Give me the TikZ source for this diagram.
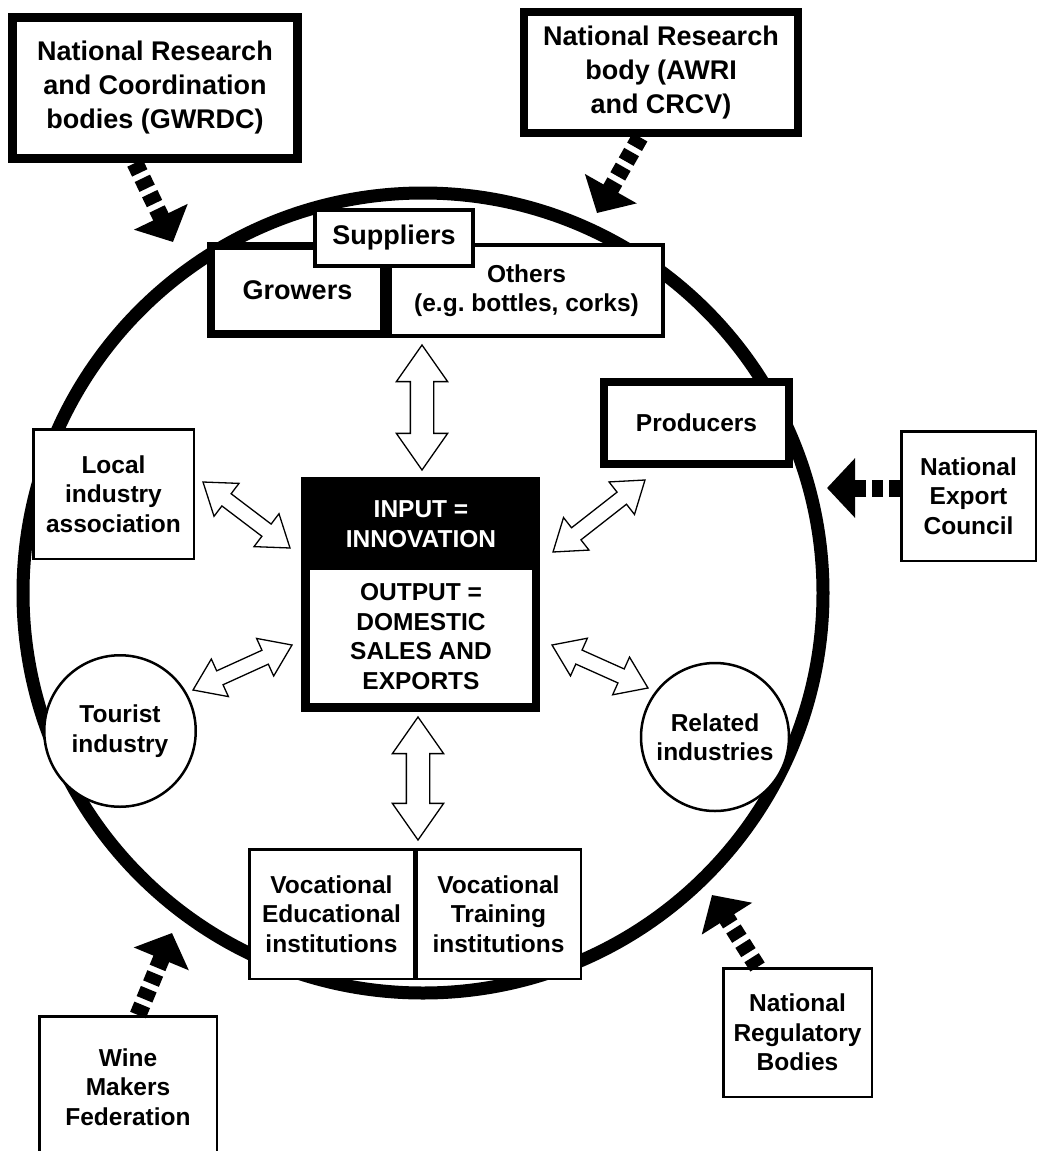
\documentclass[tikz,border=0pt]{standalone}
\usepackage{fontspec}
\setmainfont{Liberation Sans}
\usetikzlibrary{calc,shapes.arrows,arrows.meta}
\frenchspacing

% hollow two-headed arrow between two named points
\newcommand\twoway[3]{\path let \p1=($(#2)-(#1)$), \n1={atan2(\y1,\x1)}, \n2={veclen(\x1,\y1)} in
  node[#3, rotate=\n1, minimum height=\n2] at ($(#1)!0.5!(#2)$) {};}

\begin{document}
\begin{tikzpicture}[x=1pt, y=-1pt,
    bigtext/.style={font=\bfseries\fontsize{27}{34}\selectfont, align=center},
    smalltext/.style={font=\bfseries\fontsize{24.5}{29.5}\selectfont, align=center},
    heavybox/.style={draw, fill=white, line width=8.5pt, inner sep=0pt},
    midbox/.style={draw, fill=white, line width=4pt, inner sep=0pt},
    lightbox/.style={draw, fill=white, line width=2.5pt, inner sep=0pt},
    ringnode/.style={circle, draw, fill=white, line width=2.5pt, inner sep=0pt, smalltext},
    feed/.style={line width=17pt, dash pattern=on 11pt off 6pt, -{Triangle[length=28pt,width=58pt]}},
    biarrow/.style={double arrow, draw, fill=white, line width=1.3pt, inner xsep=0pt, double arrow tip angle=70},
    fatway/.style={biarrow, double arrow head extend=14pt, inner ysep=11pt},
    thinway/.style={biarrow, double arrow head extend=13pt, inner ysep=7pt}]
  \clip (0,0) rectangle (1039,1151);

  % the cluster
  \node[circle, draw, line width=13pt, minimum size=800] (ring) at (423,593) {};

  \node[heavybox, bigtext, line width=9pt, minimum width=285, minimum height=141] (gwrdc) at (155,88) {National Research\\and Coordination\\bodies (GWRDC)};
  \node[heavybox, bigtext, minimum width=274, minimum height=121] (awri) at (661,72.5) {National Research\\body (AWRI\\and CRCV)};

  \node[midbox, smalltext, minimum width=273, minimum height=91] (others) at (526.5,290.5) {Others\\(e.g. bottles, corks)};
  \node[heavybox, bigtext, minimum width=173, minimum height=88] (growers) at (297.5,290) {Growers};
  \node[midbox, bigtext, minimum width=158, minimum height=56] (suppliers) at (394,238) {Suppliers};
  \node[heavybox, smalltext, minimum width=185, minimum height=82] (producers) at (696.5,423) {Producers};

  \node[lightbox, smalltext, minimum width=134.5, minimum height=129.5] (export) at (968.5,496) {National\\Export\\Council};
  \node[lightbox, smalltext, minimum width=160.5, minimum height=129.5] (localind) at (113.5,494) {Local\\industry\\association};

  \node[fill=black, minimum width=239, minimum height=235] (core) at (420.5,594.5) {};
  \node[smalltext, text=white] (input) at (421,524) {INPUT =\\INNOVATION};
  \node[fill=white, smalltext, inner sep=0pt, minimum width=222, minimum height=133] (output) at (421,636.5) {OUTPUT =\\DOMESTIC\\SALES AND\\EXPORTS};

  \node[ringnode, minimum size=151.5] (tourist) at (120,731) {Tourist\\industry};
  \node[ringnode, minimum size=148] (related) at (715,737) {Related\\industries};

  \node[lightbox, smalltext, minimum width=164.5, minimum height=129.5] (voced) at (331.5,914) {Vocational\\Educational\\institutions};
  \node[lightbox, smalltext, minimum width=164.5, minimum height=129.5] (voctrain) at (498.5,914) {Vocational\\Training\\institutions};

  \node[lightbox, smalltext, minimum width=177.5, minimum height=141.5] (winemakers) at (128,1087) {Wine\\Makers\\Federation};
  \node[lightbox, smalltext, minimum width=148.5, minimum height=128.5] (regulatory) at (797.5,1032.5) {National\\Regulatory\\Bodies};

  % outside influences
  \coordinate (gwtip) at (173,242);
  \coordinate (awtip) at (597,213);
  \coordinate (extip) at (827,488);
  \coordinate (wmtip) at (172,933);
  \coordinate (rgtip) at (712,895);
  \draw[feed] ([xshift=-20pt]gwrdc.south) -- (gwtip);
  \draw[feed] ([xshift=-21pt]awri.south) -- (awtip);
  \draw[feed] ([yshift=8pt]export.west) -- (extip);
  \draw[feed] ([xshift=10pt]winemakers.north) -- (wmtip);
  \draw[feed] ([xshift=-40pt]regulatory.north) -- (rgtip);

  % links to the core
  \coordinate (up1) at (422,345);  \coordinate (up2) at (422,470);
  \coordinate (dn1) at (418,717);  \coordinate (dn2) at (418,840);
  \coordinate (ul1) at (203,482);  \coordinate (ul2) at (290,548);
  \coordinate (ur1) at (553,552);  \coordinate (ur2) at (645,480);
  \coordinate (ll1) at (193,690);  \coordinate (ll2) at (292,645);
  \coordinate (lr1) at (552,645);  \coordinate (lr2) at (648,688);
  \twoway{up1}{up2}{fatway}
  \twoway{dn1}{dn2}{fatway}
  \twoway{ul1}{ul2}{thinway}
  \twoway{ur1}{ur2}{thinway}
  \twoway{ll1}{ll2}{thinway}
  \twoway{lr1}{lr2}{thinway}
\end{tikzpicture}
\end{document}
